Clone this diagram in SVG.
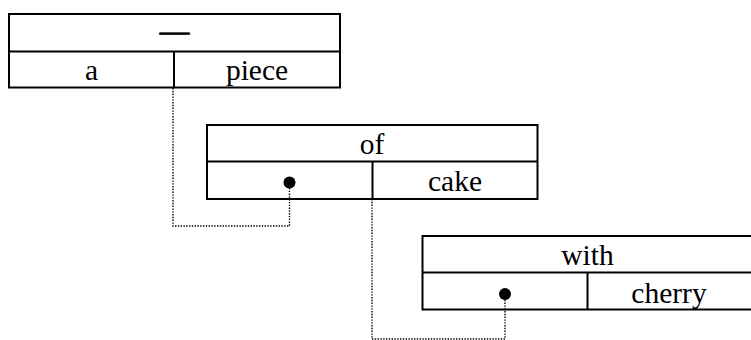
<svg xmlns="http://www.w3.org/2000/svg" width="751" height="340" viewBox="0 0 751 340">
  <style>
    .box { fill: none; stroke: #000; stroke-width: 2; }
    .rule { stroke: #000; stroke-width: 2; }
    .lbl { font-family: "Liberation Serif", "Times New Roman", serif; font-size: 29.5px; fill: #000; text-anchor: middle; }
    .dash { stroke: #000; stroke-width: 0.9; }
    .link { fill: none; stroke: #000; stroke-width: 1.4; stroke-dasharray: 1.4 1.4; }
    .slot { fill: #000; }
  </style>
  <rect width="751" height="340" fill="#fff"/>

  <g id="connectors">
    <polyline class="link" points="173,88 173,226 289.5,226 289.5,188"/>
    <polyline class="link" points="372,199 372,339 505,339 505,300"/>
  </g>

  <g id="node-piece">
    <rect class="box" x="9" y="14" width="331" height="73.5"/>
    <line class="rule" x1="9" y1="51.5" x2="340" y2="51.5"/>
    <line class="rule" x1="174" y1="51.5" x2="174" y2="87.5"/>
    <text class="lbl dash" x="174.5" y="41">—</text>
    <text class="lbl" x="91.5" y="79.5">a</text>
    <text class="lbl" x="257" y="79.5">piece</text>
  </g>

  <g id="node-of">
    <rect class="box" x="207" y="125" width="330.5" height="74"/>
    <line class="rule" x1="207" y1="161.5" x2="537.5" y2="161.5"/>
    <line class="rule" x1="372.5" y1="161.5" x2="372.5" y2="199"/>
    <text class="lbl" x="372" y="153.5">of</text>
    <circle class="slot" cx="289.5" cy="182.5" r="6"/>
    <text class="lbl" x="455" y="191">cake</text>
  </g>

  <g id="node-with">
    <rect class="box" x="422.5" y="236" width="331" height="73.5"/>
    <line class="rule" x1="422.5" y1="272.5" x2="753.5" y2="272.5"/>
    <line class="rule" x1="587.5" y1="272.5" x2="587.5" y2="309.5"/>
    <text class="lbl" x="587.5" y="265">with</text>
    <circle class="slot" cx="505" cy="294" r="6"/>
    <text class="lbl" x="669" y="302.5">cherry</text>
  </g>
</svg>
